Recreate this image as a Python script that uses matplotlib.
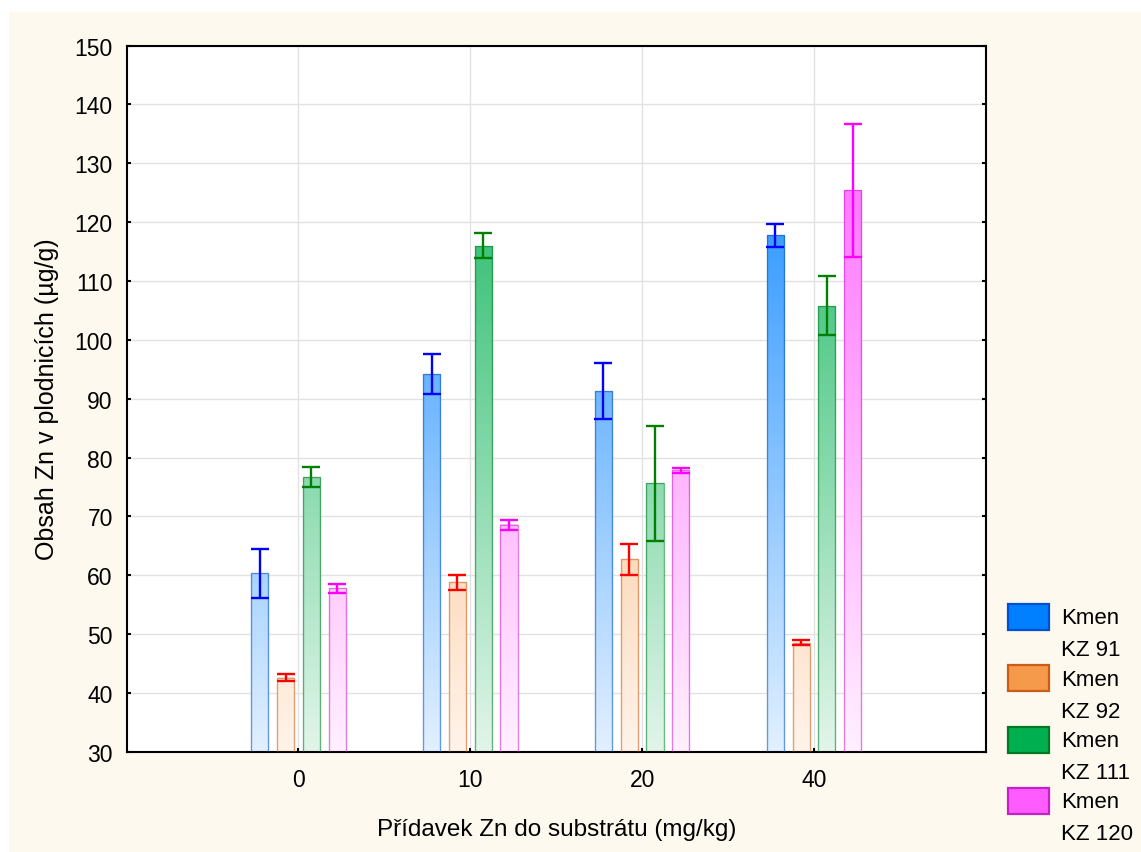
import numpy as np
import matplotlib
matplotlib.use('Agg')
import matplotlib.pyplot as plt
from matplotlib.colors import LinearSegmentedColormap
from matplotlib.patches import Rectangle

plt.rcParams['font.family'] = ['Liberation Sans', 'DejaVu Sans']

# ===data: Zn content in fruiting bodies (mean and error) per strain
doses = ['0', '10', '20', '40']
strains = ['Kmen\nKZ 91', 'Kmen\nKZ 92', 'Kmen\nKZ 111', 'Kmen\nKZ 120']
means = {
    'Kmen\nKZ 91': [60.3, 94.2, 91.3, 117.8],
    'Kmen\nKZ 92': [42.6, 58.8, 62.7, 48.5],
    'Kmen\nKZ 111': [76.7, 116.0, 75.6, 105.8],
    'Kmen\nKZ 120': [57.8, 68.6, 77.8, 125.4],
}
errors = {
    'Kmen\nKZ 91': [4.1, 3.4, 4.75, 1.95],
    'Kmen\nKZ 92': [0.6, 1.3, 2.6, 0.45],
    'Kmen\nKZ 111': [1.65, 2.1, 9.75, 5.0],
    'Kmen\nKZ 120': [0.75, 0.85, 0.45, 11.35],
}

# ===styles
full_colors = ['#0080ff', '#f5994a', '#00b050', '#ff5cff']
pale_colors = ['#e2f0ff', '#fff4ea', '#e2f5ea', '#fff0ff']
edge_colors = ['#0050d0', '#cc5a18', '#007a22', '#c820c8']
err_colors = ['#0000ff', '#ff0000', '#008000', '#ff00ff']
cream = '#fdf9ef'
y_min, y_max = 30, 150
bar_w = 0.1
step = 0.15

fig = plt.figure(figsize=(11.41, 8.53), dpi=100, facecolor='white')
fig.patches.append(Rectangle((9 / 1141, 0), 1, 1 - 13 / 853, transform=fig.transFigure,
                             facecolor=cream, edgecolor='none', zorder=-10))
ax = fig.add_axes([0.111, 0.1176, 0.753, 0.8277])
ax.set_facecolor('white')

x = np.arange(len(doses))
for i, s in enumerate(strains):
    xs = x + (i - 1.5) * step
    cmap = LinearSegmentedColormap.from_list('g%d' % i, [pale_colors[i], full_colors[i]])
    # gradient fill, colour follows the absolute value on the y axis
    for xc, v in zip(xs, means[s]):
        grad = np.linspace(y_min, v, 256)[:, None]
        ax.imshow(grad, cmap=cmap, vmin=y_min, vmax=y_max, origin='lower',
                  extent=[xc - bar_w / 2, xc + bar_w / 2, y_min, v],
                  aspect='auto', interpolation='bilinear', zorder=2)
    ax.bar(xs, np.array(means[s]) - y_min, bottom=y_min, width=bar_w, fill=False,
           edgecolor=edge_colors[i], alpha=0.55, linewidth=1.0, zorder=3)
    ax.errorbar(xs, means[s], yerr=errors[s], fmt='none', ecolor=err_colors[i],
                elinewidth=1.7, capsize=6.3, capthick=1.7, zorder=4)

ax.set_xlim(-1, 4)
ax.set_ylim(y_min, y_max)
ax.set_xticks(x)
ax.set_xticklabels(doses)
ax.set_yticks(np.arange(30, 151, 10))
ax.grid(True, color='#e2e2e2', linewidth=1.0)
ax.set_axisbelow(True)
for sp in ax.spines.values():
    sp.set_linewidth(1.5)
ax.tick_params(axis='both', direction='in', length=3, width=1.5, labelsize=16.5)
ax.tick_params(axis='y', right=True, pad=10)
ax.tick_params(axis='x', pad=12)

ax.set_xlabel('Přídavek Zn do substrátu (mg/kg)', fontsize=17.5, labelpad=19)
ax.set_ylabel('Obsah Zn v plodnicích (µg/g)', fontsize=18, labelpad=11)

# ===legend, each handle aligned with the first line of its label
W, H = 1141, 853
for i, s in enumerate(strains):
    top = 605 + i * 61.3
    fig.patches.append(Rectangle((1008 / W, 1 - (top + 26) / H), 41 / W, 26 / H,
                                 transform=fig.transFigure, facecolor=full_colors[i],
                                 edgecolor=edge_colors[i], linewidth=1.6))
    for j, line in enumerate(s.split('\n')):
        fig.text(1061 / W, 1 - (top + 14 + j * 32) / H, line, fontsize=16,
                 ha='left', va='center')

fig.savefig('out.png', dpi=100, facecolor=fig.get_facecolor())
